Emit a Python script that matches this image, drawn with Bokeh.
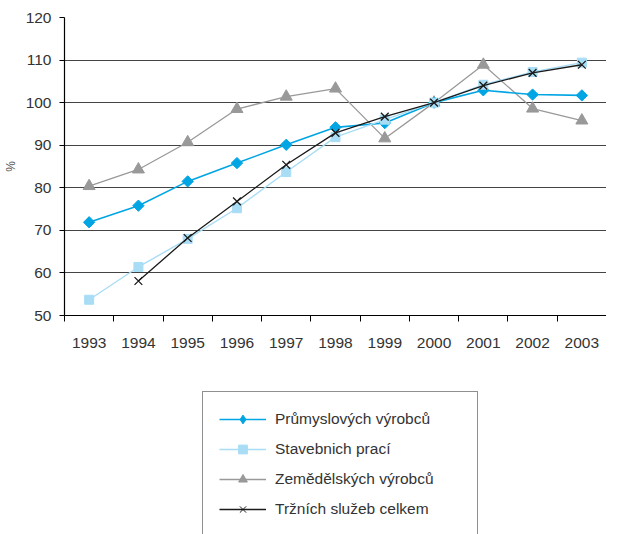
import numpy as np
from bokeh.plotting import figure
from bokeh.layouts import column
from bokeh.models import Range1d, FixedTicker, Legend, LegendItem
from bokeh.embed import file_html
from bokeh.resources import INLINE

years = [1993, 1994, 1995, 1996, 1997, 1998, 1999, 2000, 2001, 2002, 2003]
prumyslovych = [71.9, 75.8, 81.5, 85.8, 90.1, 94.2, 95.2, 100.0, 102.9, 101.9, 101.7]
stavebnich = [53.7, 61.4, 68.0, 75.2, 83.7, 91.9, 96.0, 100.0, 104.2, 107.2, 109.4]
zemedelskych = [80.4, 84.3, 90.7, 98.5, 101.4, 103.3, 91.6, 100.0, 108.9, 98.6, 95.8]
trznich = [np.nan, 58.1, 68.2, 76.8, 85.4, 92.9, 96.7, 100.0, 104.0, 107.0, 108.9]
y_ticks = [50, 60, 70, 80, 90, 100, 110, 120]

names = ["Průmyslových výrobců", "Stavebnich prací", "Zemědělských výrobců", "Tržních služeb celkem"]

FONT = "Liberation Sans"
xs = [i + 0.5 for i in range(len(years))]

c_blue = "#00a5e3"
c_light = "#a8ddf5"
c_gray = "#999999"
c_black = "#1a1a1a"

p = figure(width=606, height=360, output_backend="svg", toolbar_location=None,
           x_range=Range1d(0, len(years)), y_range=Range1d(50, 120),
           min_border_left=59, min_border_right=0, min_border_top=17, min_border_bottom=45)
p.outline_line_color = None

# grid
p.xgrid.grid_line_color = None
p.ygrid.ticker = FixedTicker(ticks=y_ticks)
p.ygrid.grid_line_color = "#444444"
p.ygrid.grid_line_width = 1

# y axis
p.yaxis.ticker = FixedTicker(ticks=y_ticks)
p.yaxis.axis_line_color = "black"
p.yaxis.axis_line_width = 1.2
p.yaxis.major_tick_in = 0
p.yaxis.major_tick_out = 5
p.yaxis.major_tick_line_color = "black"
p.yaxis.minor_tick_line_color = None
p.yaxis.major_label_standoff = 8
p.yaxis.major_label_text_font = FONT
p.yaxis.major_label_text_font_size = "15.5px"
p.yaxis.major_label_text_color = "#333333"
p.yaxis.axis_label = "%"
p.yaxis.axis_label_text_font = FONT
p.yaxis.axis_label_text_font_size = "12px"
p.yaxis.axis_label_text_font_style = "normal"
p.yaxis.axis_label_text_color = "#555555"
p.yaxis.axis_label_standoff = 5

# x axis
p.xaxis.ticker = FixedTicker(ticks=xs, minor_ticks=list(range(len(years) + 1)))
p.xaxis.major_label_overrides = {x: str(y) for x, y in zip(xs, years)}
p.xaxis.axis_line_color = "black"
p.xaxis.axis_line_width = 1.2
p.xaxis.major_tick_line_color = None
p.xaxis.major_tick_in = 0
p.xaxis.major_tick_out = 0
p.xaxis.minor_tick_line_color = "black"
p.xaxis.minor_tick_in = 0
p.xaxis.minor_tick_out = 6
p.xaxis.major_label_standoff = 16
p.xaxis.major_label_text_font = FONT
p.xaxis.major_label_text_font_size = "15.5px"
p.xaxis.major_label_text_color = "#333333"

# draw order: gray, blue, light, black
p.line(xs, zemedelskych, line_color=c_gray, line_width=1.3)
p.scatter(xs, zemedelskych, marker="triangle", size=12, fill_color=c_gray, line_color=c_gray)
p.line(xs, prumyslovych, line_color=c_blue, line_width=1.6)
p.scatter(xs, prumyslovych, marker="square", angle=np.pi / 4, size=8, fill_color=c_blue, line_color=c_blue)
p.line(xs, stavebnich, line_color=c_light, line_width=1.4)
p.scatter(xs, stavebnich, marker="square", size=9, fill_color=c_light, line_color=c_light)
p.line(xs, trznich, line_color=c_black, line_width=1.3)
p.scatter(xs, trznich, marker="x", size=11, line_color=c_black, line_width=1.3)

# legend panel below the chart
q = figure(width=606, height=174, output_backend="svg", toolbar_location=None,
           x_range=Range1d(0, 1), y_range=Range1d(0, 1),
           min_border_left=0, min_border_right=0, min_border_top=0, min_border_bottom=0)
q.outline_line_color = None
q.axis.visible = False
q.grid.grid_line_color = None

def legend_renderers(color, marker, lw):
    # off-screen samples so that the legend glyphs are drawn
    r1 = q.line([-10, -9], [-10, -10], line_color=color, line_width=lw)
    r2 = q.scatter([-10], [-10], marker=marker, line_color=color, fill_color=color)
    return [r1, r2]

items = [
    LegendItem(label=names[0], renderers=legend_renderers(c_blue, "diamond", 1.6)),
    LegendItem(label=names[1], renderers=legend_renderers(c_light, "square", 1.4)),
    LegendItem(label=names[2], renderers=legend_renderers(c_gray, "triangle", 1.3)),
    LegendItem(label=names[3], renderers=legend_renderers(c_black, "x", 1.3)),
]
legend = Legend(items=items, location=(138, -3))
legend.padding = 16
legend.spacing = 8
legend.glyph_height = 22
legend.label_height = 22
legend.glyph_width = 47
legend.label_standoff = 9
legend.label_width = 186
legend.label_text_font = FONT
legend.label_text_font_size = "15.5px"
legend.label_text_color = "#333333"
legend.border_line_color = "#222222"
legend.border_line_width = 1
legend.background_fill_color = "white"
legend.background_fill_alpha = 1
q.add_layout(legend, "center")

layout = column(p, q, spacing=0)
open("out.html", "w").write(file_html(layout, INLINE))
